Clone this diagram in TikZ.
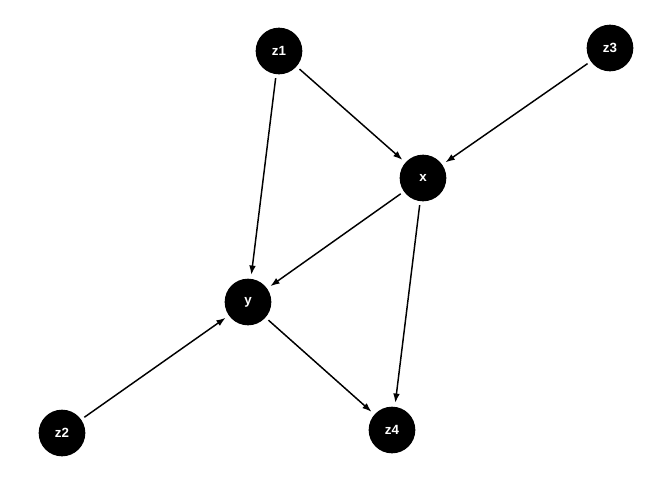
\documentclass[tikz,border=0pt]{standalone}
\usepackage{fontspec}
\setmainfont{Liberation Sans}
\usetikzlibrary{arrows.meta}
\tikzset{>={Latex[length=7pt, width=5pt]}}
\tikzset{var/.style={circle, fill=black, text=white, minimum size=35pt, inner sep=0pt, outer sep=3pt, font=\bfseries\normalsize}}

\begin{document}
\begin{tikzpicture}[x=0.75pt, y=-0.75pt, line width=1.1pt]
    \useasboundingbox(0, 0)rectangle(672, 480);
    \node[var](z1)at(279, 51){z1};
    \node[var](z3)at(610, 48){z3};
    \node[var](x)at(423, 178){x};
    \node[var](y)at(248, 302){y};
    \node[var](z2)at(62, 433){z2};
    \node[var](z4)at(392, 430){z4};
    \draw[->](z1)--(x);
    \draw[->](z3)--(x);
    \draw[->](z1)--(y);
    \draw[->](x)--(y);
    \draw[->](x)--(z4);
    \draw[->](z2)--(y);
    \draw[->](y)--(z4);
\end{tikzpicture}
\end{document}
